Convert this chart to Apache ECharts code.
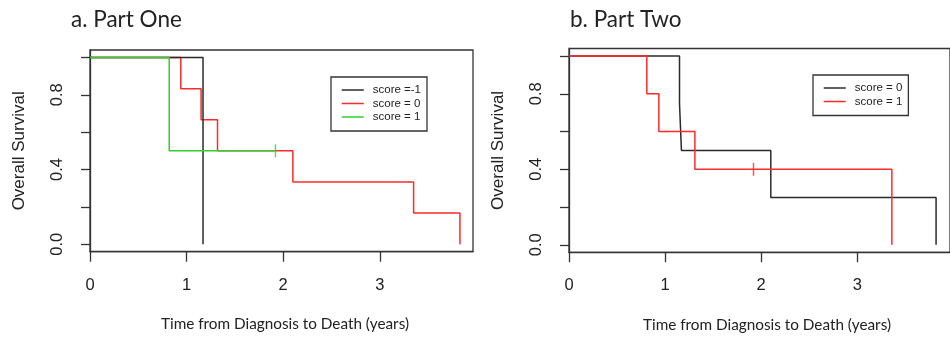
<!DOCTYPE html>
<html>
<head>
<meta charset="utf-8">
<script src="https://cdn.jsdelivr.net/npm/echarts@6/dist/echarts.min.js"></script>
<style>
  html, body { margin: 0; padding: 0; background: #fff; }
  #chart { width: 950px; height: 339px; }
</style>
</head>
<body>
<div id="chart"></div>
<script>
// Part One: [time in years, survival]
const oneScoreMinus1 = [[0, 1], [1.17, 0]];
const oneScore0 = [[0, 1], [0.94, 0.833], [1.15, 0.667], [1.32, 0.5], [2.10, 0.333], [3.35, 0.167], [3.83, 0]];
const oneScore1 = [[0, 1], [0.82, 0.5], [1.92, 0.5]];
const oneCensored = [[1.92, 0.5]];

// Part Two
const twoScore0 = [[0, 1], [1.15, 0.75], [1.17, 0.5], [2.10, 0.25], [3.82, 0]];
const twoScore1 = [[0, 1], [0.81, 0.8], [0.935, 0.6], [1.31, 0.4], [1.92, 0.4], [3.36, 0]];
const twoCensored = [[1.92, 0.4]];

const xTicks = [0, 1, 2, 3];
const yTicks = [0, 0.2, 0.4, 0.6, 0.8, 1];
const yLabels = [0, 0.4, 0.8];

const BLACK = '#2b2b2b';
const RED = '#ff2a2a';
const GREEN = '#2fcf2f';
const tickFont = 'Liberation Sans';
const textFont = 'Lato';

function xAxisFor(gridIndex, shift) {
  return {
    type: 'value', gridIndex, min: 0, max: 3.965,
    splitLine: { show: false },
    axisLine: { onZero: false, lineStyle: { color: '#333', width: 1.3 } },
    axisTick: { customValues: xTicks, length: 10, lineStyle: { color: '#333', width: 1.3 } },
    axisLabel: { customValues: xTicks, margin: 25, fontSize: 16.5, color: '#222', fontFamily: tickFont },
    name: 'Time from Diagnosis to Death (years)',
    nameLocation: 'middle', nameGap: 65,
    nameTextStyle: { fontSize: 15.3, color: '#222', fontFamily: textFont, padding: [0, 0, 0, shift] }
  };
}

function yAxisFor(gridIndex) {
  return {
    type: 'value', gridIndex, min: -0.04, max: 1.04,
    splitLine: { show: false },
    axisLine: { onZero: false, lineStyle: { color: '#333', width: 1.3 } },
    axisTick: { customValues: yTicks, length: 9, lineStyle: { color: '#333', width: 1.3 } },
    axisLabel: {
      customValues: yLabels, rotate: 90, margin: 24, fontSize: 16.5,
      color: '#222', fontFamily: tickFont,
      formatter: (v) => v.toFixed(1)
    },
    name: 'Overall Survival',
    nameLocation: 'middle', nameRotate: 90, nameGap: 62,
    nameTextStyle: { fontSize: 17, color: '#222', fontFamily: tickFont }
  };
}

function stepLine(name, data, color, gridIndex) {
  return {
    name, type: 'line', step: 'end', data,
    xAxisIndex: gridIndex, yAxisIndex: gridIndex,
    symbol: 'none', silent: true,
    lineStyle: { color, width: 1.5 }, itemStyle: { color }
  };
}

function censorMarks(data, color, gridIndex) {
  return {
    type: 'scatter', data, xAxisIndex: gridIndex, yAxisIndex: gridIndex,
    symbol: 'rect', symbolSize: [1.5, 13], silent: true,
    itemStyle: { color }, z: 3
  };
}

const legendBase = {
  orient: 'vertical', itemWidth: 22, itemHeight: 14, itemGap: 1.5,
  backgroundColor: '#fff',
  borderColor: '#333', borderWidth: 1.3, padding: [7, 6, 8, 10],
  itemStyle: { opacity: 0 },
  lineStyle: { width: 1.5 },
  textStyle: { fontSize: 11.5, color: '#222', fontFamily: tickFont, padding: [0, 0, 0, 4] },
  formatter: (name) => name.slice(2),
  selectedMode: false
};

const option = {
  animation: false,
  title: [
    { text: 'a. Part One', left: 66, top: 3, textStyle: { fontSize: 22.5, fontWeight: 'normal', color: '#222', fontFamily: textFont } },
    { text: 'b. Part Two', left: 565, top: 3, textStyle: { fontSize: 22.5, fontWeight: 'normal', color: '#222', fontFamily: textFont } }
  ],
  grid: [
    { left: 90, top: 50, width: 383, height: 201.7, show: true, borderColor: '#333', borderWidth: 1.3 },
    { left: 569, top: 48.5, width: 387, height: 203.8, show: true, borderColor: '#333', borderWidth: 1.3 }
  ],
  xAxis: [xAxisFor(0, 7), xAxisFor(1, 15)],
  yAxis: [yAxisFor(0), yAxisFor(1)],
  legend: [
    Object.assign({}, legendBase, { left: 331, top: 77, data: ['a:score =-1', 'a:score = 0', 'a:score = 1'] }),
    Object.assign({}, legendBase, { left: 813, top: 75, data: ['b:score = 0', 'b:score = 1'] })
  ],
  series: [
    stepLine('a:score = 0', oneScore0, RED, 0),
    stepLine('a:score =-1', oneScoreMinus1, BLACK, 0),
    stepLine('a:score = 1', oneScore1, GREEN, 0),
    censorMarks(oneCensored, GREEN, 0),
    stepLine('b:score = 0', twoScore0, BLACK, 1),
    stepLine('b:score = 1', twoScore1, RED, 1),
    censorMarks(twoCensored, RED, 1)
  ]
};

const chart = echarts.init(document.getElementById('chart'), null, { renderer: 'canvas' });
chart.setOption(option);
</script>
</body>
</html>
